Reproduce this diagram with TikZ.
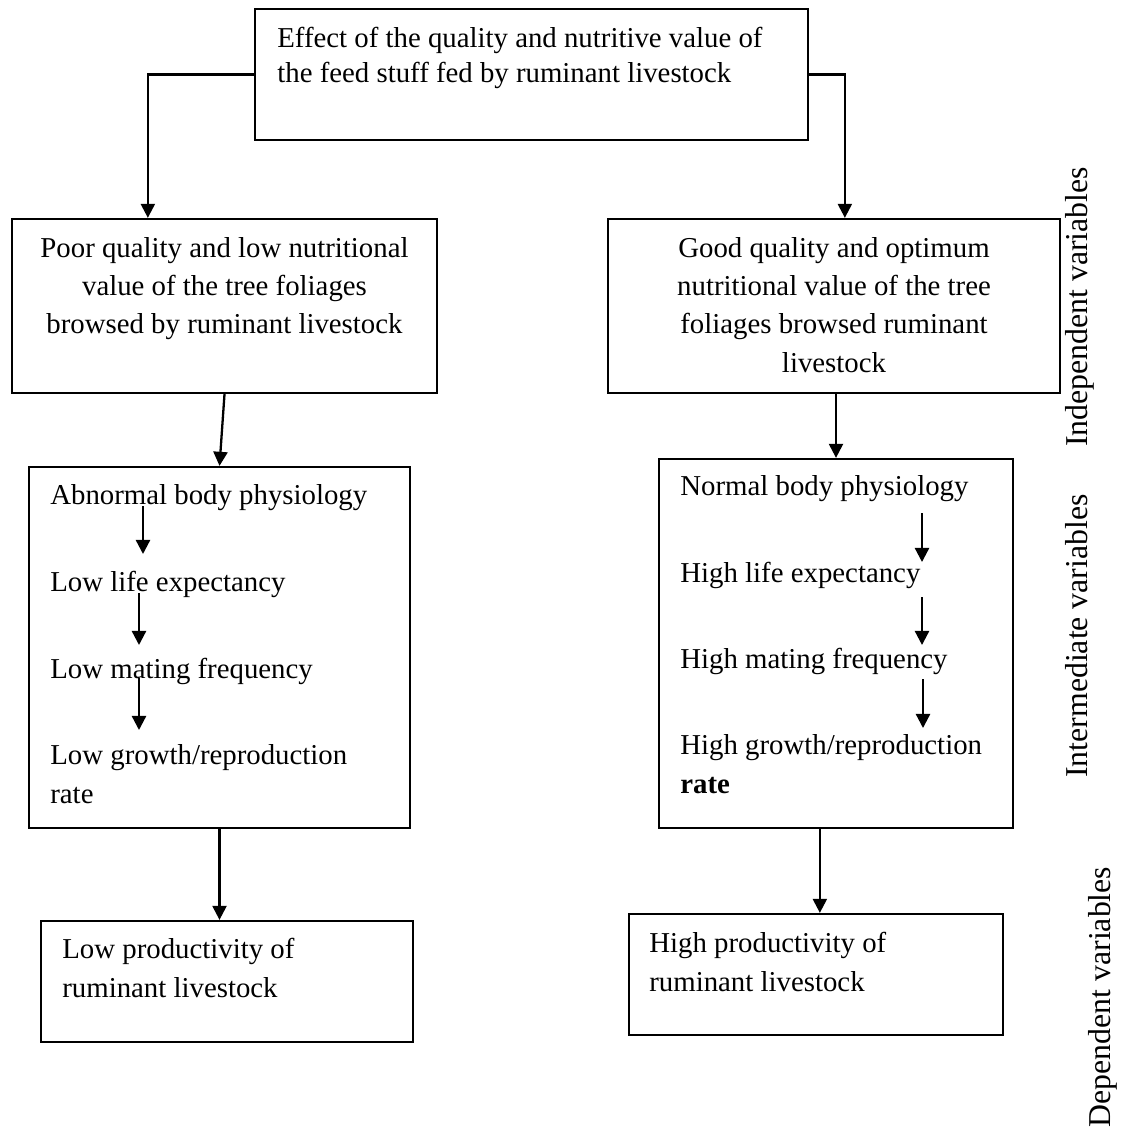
\documentclass[tikz,border=0pt]{standalone}
\usepackage{fontspec}
\setmainfont{Liberation Serif}
\usetikzlibrary{
  calc, positioning, arrows.meta, fit
}

\tikzset{
  box/.style={draw, line width=1.3pt, inner sep=0pt},
  txt/.style={font=\fontsize{16.4}{21.8}\selectfont, inner sep=0pt, align=left},
  arr/.style={line width=1.3pt, -{Triangle[length=8pt,width=8pt]}},
  side/.style={font=\fontsize{18.1}{21}\selectfont, rotate=90, inner sep=0pt, anchor=base}
}

\begin{document}
\begin{tikzpicture}[x=0.02cm, y=-0.02cm]
      \useasboundingbox (0,0) rectangle (1124,1128);
      % boxes
      \node[box, fit={(255,9) (808,140)}] (effect) {};
      \node[box, fit={(12,219) (437,393)}] (poor) {};
      \node[box, fit={(608,219) (1060,393)}] (good) {};
      \node[box, fit={(29,467) (410,828)}] (abnbox) {};
      \node[box, fit={(659,459) (1013,828)}] (normbox) {};
      \node[box, fit={(41,921) (413,1042)}] (lowprod) {};
      \node[box, fit={(629,914) (1003,1035)}] (highprod) {};

      % texts (base = last line)
      \node[txt, anchor=base west, font=\fontsize{16.4}{20.4}\selectfont] (effecttxt) at (277,83)
        {Effect of the quality and nutritive value of\\the feed stuff fed by ruminant livestock};
      \node[txt, anchor=base, align=center] (poortxt) at (224.5,334)
        {Poor quality and low nutritional\\value of the tree foliages\\browsed by ruminant livestock};
      \node[txt, anchor=base, align=center] (goodtxt) at (834,372)
        {Good quality and optimum\\nutritional value of the tree\\foliages browsed ruminant\\livestock};

      \node[txt, anchor=base west] (abn) at (50,504) {Abnormal body physiology};
      \node[txt, anchor=base west] (lowlife) at (50,591) {Low life expectancy};
      \node[txt, anchor=base west] (lowmate) at (50,678) {Low mating frequency};
      \node[txt, anchor=base west] (lowgrow) at (50,803) {Low growth/reproduction\\rate};

      \node[txt, anchor=base west] (norm) at (680,495) {Normal body physiology};
      \node[txt, anchor=base west] (highlife) at (680,582) {High life expectancy};
      \node[txt, anchor=base west] (highmate) at (680,668) {High mating frequency};
      \node[txt, anchor=base west] (highgrow) at (680,793) {High growth/reproduction\\\textbf{rate}};

      \node[txt, anchor=base west] (lowprodtxt) at (62,997) {Low productivity of\\ruminant livestock};
      \node[txt, anchor=base west] (highprodtxt) at (649,991) {High productivity of\\ruminant livestock};

      \node[side] (indep) at (1087,307) {Independent variables};
      \node[side] (inter) at (1087,636) {Intermediate variables};
      \node[side] (dep) at (1110,997) {Dependent variables};

      % connectors
      \coordinate (poorin) at ($(poor.north west)+(137,0)$);
      \coordinate (goodin) at ($(good.north west)+(238,0)$);
      \coordinate (normout) at ($(normbox.south west)+(162,0)$);
      \draw[arr] (effect.west) -| (poorin);
      \draw[arr] (effect.east) -| (goodin);
      \draw[arr] (poor.south) -- (abnbox.north);
      \draw[arr] (normbox.north |- good.south) -- (normbox.north);
      \draw[arr] (abnbox.south) -- (abnbox.south |- lowprod.north);
      \draw[arr] (normout) -- (normout |- highprod.north);

      % steps inside the middle boxes
      \draw[arr] ($(abn.base west)+(93,2)$) -- ($(lowlife.base west)+(93,-37)$);
      \draw[arr] ($(lowlife.base west)+(89,2)$) -- ($(lowmate.base west)+(89,-33)$);
      \draw[arr] ($(lowmate.base west)+(89,0)$) -- ($(lowgrow.base west)+(89,-73)$);
      \draw[arr] ($(norm.base west)+(242,18)$) -- ($(highlife.base west)+(242,-20)$);
      \draw[arr] ($(highlife.base west)+(242,15)$) -- ($(highmate.base west)+(242,-23)$);
      \draw[arr] ($(highmate.base west)+(243,11)$) -- ($(highgrow.base west)+(243,-65)$);
    \end{tikzpicture}
\end{document}
